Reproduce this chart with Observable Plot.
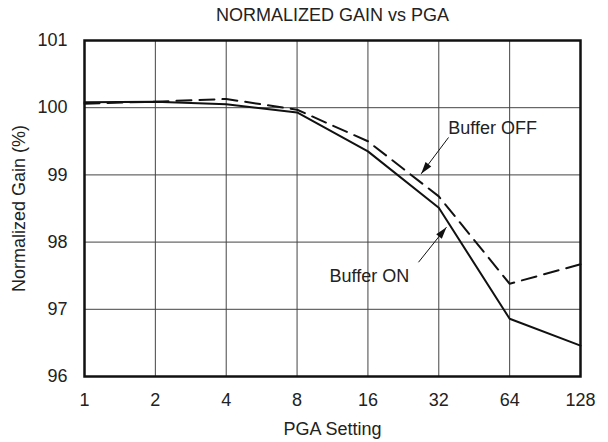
<!DOCTYPE html>
<html>
<head>
<meta charset="utf-8">
<script src="https://cdn.jsdelivr.net/npm/d3@7"></script>
<script src="https://cdn.jsdelivr.net/npm/@observablehq/plot@0.6"></script>
<style>
  html, body { margin: 0; padding: 0; background: #fff; }
</style>
</head>
<body>
<div id="chart"></div>
<script>
const pga = [1, 2, 4, 8, 16, 32, 64, 128];
const bufferOn = [100.08, 100.09, 100.05, 99.93, 99.35, 98.51, 96.86, 96.46];
const bufferOff = [100.06, 100.09, 100.13, 99.97, 99.50, 98.68, 97.38, 97.67];
const xTicks = [1, 2, 4, 8, 16, 32, 64, 128];
const yTicks = [96, 97, 98, 99, 100, 101];

const labels = ["Buffer OFF", "Buffer ON"];
const labelX = [35.1, 10.98];
const labelY = [99.70, 97.49];
const arrowX1 = [35.2, 26.24];
const arrowY1 = [99.557, 97.70];
const arrowX2 = [26.94, 34.5];
const arrowY2 = [99.016, 98.222];

const title = "NORMALIZED GAIN vs PGA";
const xLabel = "PGA Setting";
const yLabel = "Normalized Gain (%)";

const onData = pga.map((x, i) => ({x, y: bufferOn[i]}));
const offData = pga.map((x, i) => ({x, y: bufferOff[i]}));
const labelData = labels.map((t, i) => ({t, x: labelX[i], y: labelY[i]}));
const arrowData = labels.map((t, i) => ({x1: arrowX1[i], y1: arrowY1[i], x2: arrowX2[i], y2: arrowY2[i]}));

const chart = Plot.plot({
  width: 608,
  height: 442,
  marginLeft: 84,
  marginRight: 28,
  marginTop: 40,
  marginBottom: 66,
  style: {fontFamily: "'Liberation Sans', Arial, sans-serif", fontSize: "18px", color: "#222", background: "#fff"},
  x: {type: "log", base: 2, domain: [1, 128]},
  y: {domain: [96, 101]},
  marks: [
    Plot.ruleX(xTicks, {stroke: "#444", strokeWidth: 1}),
    Plot.ruleY(yTicks, {stroke: "#444", strokeWidth: 1}),
    Plot.axisX(xTicks, {tickSize: 0, tickPadding: 17, tickFormat: d => String(d), fontSize: 18, label: null}),
    Plot.axisY(yTicks, {tickSize: 0, tickPadding: 17, tickFormat: d => String(d), fontSize: 18, label: null}),
    Plot.line(offData, {x: "x", y: "y", stroke: "#111", strokeWidth: 2, strokeDasharray: "15,8"}),
    Plot.line(onData, {x: "x", y: "y", stroke: "#111", strokeWidth: 2}),
    Plot.link(arrowData, {x1: "x1", y1: "y1", x2: "x2", y2: "y2", stroke: "#111", strokeWidth: 1, markerEnd: "arrow"}),
    Plot.text(labelData, {x: "x", y: "y", text: "t", textAnchor: "start", lineAnchor: "middle", fontSize: 18, fill: "#222"}),
    Plot.text([title], {frameAnchor: "top", dy: -25, lineAnchor: "middle", fontSize: 18, fill: "#222"}),
    Plot.text([xLabel], {frameAnchor: "bottom", dy: 53, lineAnchor: "middle", fontSize: 18, fill: "#222"}),
    Plot.text([yLabel], {frameAnchor: "left", dx: -65, rotate: -90, textAnchor: "middle", lineAnchor: "middle", fontSize: 18, fill: "#222"}),
    Plot.frame({stroke: "#111", strokeWidth: 2.5})
  ]
});

// turn the annotation arrowheads into filled triangles
const svgEl = chart.tagName.toLowerCase() === "svg" ? chart : chart.querySelector("svg");
d3.select(svgEl).selectAll("marker")
  .attr("markerUnits", "userSpaceOnUse")
  .attr("viewBox", "-13 -5 14 10")
  .attr("refX", 0).attr("refY", 0)
  .attr("markerWidth", 14).attr("markerHeight", 10)
  .attr("orient", "auto")
  .attr("fill", "#111").attr("stroke", "none")
  .each(function() {
    d3.select(this).selectAll("*").remove();
    d3.select(this).append("path")
      .attr("d", "M0,0L-12,-3.6L-12,3.6Z")
      .attr("fill", "#111").attr("stroke", "none");
  });

document.getElementById("chart").appendChild(chart);
</script>
</body>
</html>
